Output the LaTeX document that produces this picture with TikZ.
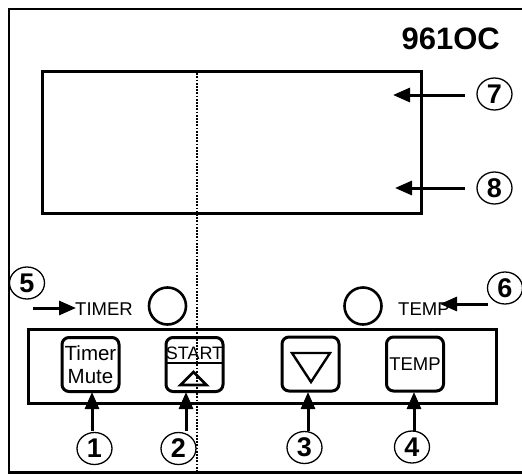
\documentclass[tikz,border=0pt]{standalone}
\usepackage{fontspec}
\setmainfont{Liberation Sans}
\usetikzlibrary{arrows.meta,shapes.geometric}
\begin{document}
\begin{tikzpicture}[x=1pt,y=-1pt,
 num/.style={ellipse,draw,line width=1.3pt,minimum width=35pt,minimum height=32pt,inner sep=0pt,font=\fontsize{27}{27}\selectfont\bfseries},
 btn/.style={draw,line width=3pt,rounded corners=7pt,inner sep=0pt,minimum width=57pt,minimum height=54pt},
 led/.style={circle,draw,line width=2.6pt,minimum size=37pt,inner sep=0pt},
 arr/.style={line width=3pt,-{Triangle[length=17pt,width=14pt]}},
 lbl/.style={font=\fontsize{18.5}{18.5}\selectfont,inner sep=0pt}]
\useasboundingbox (0,0) rectangle (522,474);
% outer frame
\coordinate (ftr) at (523,9);
\coordinate (ftl) at (9,9);
\coordinate (fbl) at (9,472.5);
\coordinate (fbr) at (523,472.5);
\draw[line width=2.8pt] (ftr) -- (ftl) -- (fbl) -- (fbr);
% title
\node[anchor=base east,inner sep=0pt,font=\fontsize{31}{31}\selectfont\bfseries] (title) at (500,49) {961OC};
% display
\node[draw,line width=3.2pt,minimum width=379pt,minimum height=142pt,anchor=north west,inner sep=0pt] (disp) at (41,70) {};
% dotted line
\coordinate (dtop) at (197,70);
\coordinate (dbot) at (197,474);
\draw[line width=2.2pt,dash pattern=on 1.8pt off 1.4pt] (dtop) -- (dbot);
% panel
\node[draw,line width=3.2pt,minimum width=468pt,minimum height=74pt,anchor=north west,inner sep=0pt] (panel) at (27,328) {};
% buttons
\node[btn,align=center,font=\fontsize{20.5}{23}\selectfont] (b1) at (90.5,364.5) {Timer\\Mute};
\node[btn] (b2) at (194.5,364.5) {};
\node[btn] (b3) at (310.5,364) {};
\node[btn,font=\fontsize{18.5}{18.5}\selectfont] (b4) at (415,364) {TEMP};
\coordinate (dl) at (166,363);
\coordinate (dr) at (223,363);
\draw[line width=2.8pt] (dl) -- (dr);
\node[inner sep=0pt,anchor=base,font=\fontsize{18}{18}\selectfont] (start) at (194.5,359.5) {START};
\coordinate (u1) at (180.5,385);
\coordinate (u2) at (206.5,385);
\coordinate (u3) at (193.5,372);
\draw[line width=2.8pt,line join=miter] (u1) -- (u2) -- (u3) -- cycle;
\coordinate (d1) at (292,353);
\coordinate (d2) at (330,353);
\coordinate (d3) at (311,382);
\draw[line width=2.4pt,line join=miter] (d1) -- (d2) -- (d3) -- cycle;
% LEDs and labels
\node[led] (l1) at (167.5,306) {};
\node[led] (l2) at (363,306) {};
\node[lbl,anchor=base west] (tl) at (75,315) {TIMER};
\node[lbl,anchor=base west] (tr) at (398,315) {TEMP};
% number circles
\node[num] (c1) at (94.5,448.5) {1};
\node[num] (c2) at (178.5,448.5) {2};
\node[num] (c3) at (304.5,447.5) {3};
\node[num] (c4) at (412,447) {4};
\node[num] (c5) at (27,283) {5};
\node[num] (c6) at (505,288) {6};
\node[num] (c7) at (494.5,94) {7};
\node[num] (c8) at (494.5,188) {8};
% arrows
\coordinate (a1s) at (92,431);   \coordinate (a1e) at (92,392);
\coordinate (a2s) at (186,431);  \coordinate (a2e) at (186,392);
\coordinate (a3s) at (308,431);  \coordinate (a3e) at (308,392);
\coordinate (a4s) at (414,431);  \coordinate (a4e) at (414,392);
\draw[arr] (a1s) -- (a1e);
\draw[arr] (a2s) -- (a2e);
\draw[arr] (a3s) -- (a3e);
\draw[arr] (a4s) -- (a4e);
\coordinate (a5s) at (33,308);
\coordinate (a5e) at (76,308);
\draw[arr] (a5s) -- (a5e);
\coordinate (a6s) at (488,304);
\coordinate (a6e) at (440,304);
\draw[arr] (a6s) -- (a6e);
\coordinate (a7s) at (465,95);
\coordinate (a7e) at (393,95);
\draw[arr] (a7s) -- (a7e);
\coordinate (a8s) at (465,188);
\coordinate (a8e) at (395,188);
\draw[arr] (a8s) -- (a8e);
\end{tikzpicture}
\end{document}
